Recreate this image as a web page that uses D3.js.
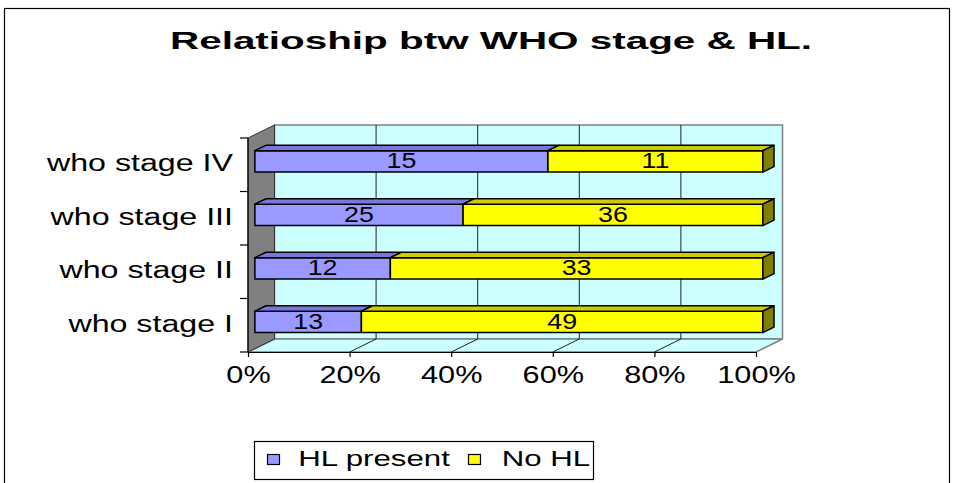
<!DOCTYPE html>
<html>
<head>
<meta charset="utf-8">
<script src="https://cdn.jsdelivr.net/npm/d3@7"></script>
<style>
    body { margin: 0; background: #fff; }
    svg { display: block; }
    text { font-family: "Liberation Sans", Arial, sans-serif; fill: #000; }
</style>
</head>
<body>
<svg id="chart" width="955" height="483"></svg>
<script>
const titleText = 'Relatioship btw WHO stage & HL.';
const categories = ['who stage IV', 'who stage III', 'who stage II', 'who stage I'];
const hlPresent = [15, 25, 12, 13];
const noHL = [11, 36, 33, 49];
const seriesNames = ['HL present', 'No HL'];
const xTicks = [0, 0.2, 0.4, 0.6, 0.8, 1];

const colors = {
    front: ['#9999ff', '#ffff00'],
    top: ['#7777dd', '#cccc00'],
    side: ['#6666aa', '#808000']
};

const svg = d3.select('#chart');

// outer frame
svg.append('rect')
    .attr('x', 4.5).attr('y', 8.5)
    .attr('width', 945).attr('height', 500)
    .attr('fill', '#fff').attr('stroke', '#000').attr('stroke-width', 1.2);

svg.append('g')
    .attr('transform', 'translate(491,48.5) scale(1.72,1)')
    .append('text')
    .attr('text-anchor', 'middle')
    .attr('font-size', 23.5)
    .attr('font-weight', 'bold')
    .text(titleText);

const x = d3.scaleLinear().domain([0, 1]).range([248, 756]);
const y = d3.scaleBand().domain(categories).range([138, 352])
    .paddingInner(0.6).paddingOuter(0.3);

// depth of the 3d box
const DX = 26.5, DY = 13;
const P = (v, py, z) => [x(v) + z * DX, py - z * DY];
const poly = pts => pts.map(p => p.join(',')).join(' ');

const yTop = y.range()[0], yBot = y.range()[1];

// back wall, floor, side wall
svg.append('polygon')
    .attr('points', poly([P(0, yTop, 1), P(1, yTop, 1), P(1, yBot, 1), P(0, yBot, 1)]))
    .attr('fill', '#ccffff').attr('stroke', '#808080').attr('stroke-width', 1.5);
svg.append('polygon')
    .attr('points', poly([P(0, yBot, 0), P(1, yBot, 0), P(1, yBot, 1), P(0, yBot, 1)]))
    .attr('fill', '#ccffff').attr('stroke', '#808080').attr('stroke-width', 1.5);
svg.append('polygon')
    .attr('points', poly([P(0, yTop, 0), P(0, yTop, 1), P(0, yBot, 1), P(0, yBot, 0)]))
    .attr('fill', '#808080').attr('stroke', '#333').attr('stroke-width', 1);

// gridlines on wall and floor
xTicks.filter(t => t > 0 && t < 1).forEach(t => {
    const a = P(t, yTop, 1), b = P(t, yBot, 1), c = P(t, yBot, 0);
    svg.append('polyline')
        .attr('points', poly([a, b, c]))
        .attr('fill', 'none').attr('stroke', '#222').attr('stroke-width', 1);
});

// x axis
const xAxis = svg.append('g')
    .attr('transform', `translate(0,${yBot})`)
    .call(d3.axisBottom(x).tickValues(xTicks).tickFormat(d3.format('.0%')).tickSize(5).tickSizeOuter(0));
xAxis.select('.domain').attr('stroke', '#000').attr('stroke-width', 1.2);
xAxis.selectAll('.tick line').attr('stroke', '#000').attr('stroke-width', 1.2);
xAxis.selectAll('.tick text')
    .attr('font-size', 24)
    .attr('font-family', '"Liberation Sans", Arial, sans-serif')
    .attr('y', 30.7).attr('dy', null)
    .attr('transform', 'scale(1.28,1)')
    .attr('fill', '#000');

// y axis line and ticks at band edges
svg.append('line')
    .attr('x1', x(0)).attr('x2', x(0)).attr('y1', yTop).attr('y2', yBot)
    .attr('stroke', '#000').attr('stroke-width', 1.2);
const edges = categories.map(c => y(c) - y.step() * y.paddingInner() / 2).concat([yBot]);
edges[0] = yTop;
svg.selectAll('.ytick')
    .data(edges)
    .enter().append('line')
    .attr('class', 'ytick')
    .attr('x1', x(0) - 8).attr('x2', x(0))
    .attr('y1', d => d).attr('y2', d => d)
    .attr('stroke', '#000').attr('stroke-width', 1.2);

svg.selectAll('.ylabel')
    .data(categories)
    .enter().append('g')
    .attr('class', 'ylabel')
    .attr('transform', c => `translate(233,${y(c) + y.bandwidth() / 2 + 6.5}) scale(1.4,1)`)
    .append('text')
    .attr('text-anchor', 'end')
    .attr('font-size', 23)
    .text(c => c);

// stacked 100% bars
const rows = categories.map((c, i) => ({ cat: c, 'HL present': hlPresent[i], 'No HL': noHL[i] }));
const stacked = d3.stack().keys(seriesNames).offset(d3.stackOffsetExpand)(rows);

const zf = 0.26, zb = 0.68;
const bars = svg.append('g');
rows.forEach((row, ri) => {
    const y0 = y(row.cat), y1 = y0 + y.bandwidth();
    stacked.forEach((s, si) => {
        const [v0, v1] = s[ri];
        const g = bars.append('g');
        // front
        g.append('polygon')
            .attr('points', poly([P(v0, y0, zf), P(v1, y0, zf), P(v1, y1, zf), P(v0, y1, zf)]))
            .attr('fill', colors.front[si]).attr('stroke', '#000').attr('stroke-width', 1.5)
            .attr('stroke-linejoin', 'round');
        // top
        g.append('polygon')
            .attr('points', poly([P(v0, y0, zf), P(v1, y0, zf), P(v1, y0, zb), P(v0, y0, zb)]))
            .attr('fill', colors.top[si]).attr('stroke', '#000').attr('stroke-width', 1.5)
            .attr('stroke-linejoin', 'round');
        if (si === stacked.length - 1) {
            g.append('polygon')
                .attr('points', poly([P(v1, y0, zf), P(v1, y0, zb), P(v1, y1, zb), P(v1, y1, zf)]))
                .attr('fill', colors.side[si]).attr('stroke', '#000').attr('stroke-width', 1.5)
                .attr('stroke-linejoin', 'round');
        }
        const c = P((v0 + v1) / 2, (y0 + y1) / 2, zf);
        g.append('g')
            .attr('transform', `translate(${c[0]},${c[1] + 7}) scale(1.22,1)`)
            .append('text')
            .attr('text-anchor', 'middle')
            .attr('font-size', 22)
            .text(row[seriesNames[si]]);
    });
});

// legend
const legend = svg.append('g');
legend.append('rect')
    .attr('x', 254.5).attr('y', 441.5).attr('width', 339).attr('height', 38)
    .attr('fill', '#fff').attr('stroke', '#000').attr('stroke-width', 1.2);
const legendItems = [{ sx: 267.5, tx: 298.3 }, { sx: 468.5, tx: 501.7 }];
seriesNames.forEach((name, i) => {
    legend.append('rect')
        .attr('x', legendItems[i].sx).attr('y', 454.5).attr('width', 12).attr('height', 10)
        .attr('fill', colors.front[i]).attr('stroke', '#000').attr('stroke-width', 1.2);
    legend.append('g')
        .attr('transform', `translate(${legendItems[i].tx},466) scale(1.42,1)`)
        .append('text')
        .attr('font-size', 22)
        .text(name);
});
</script>
</body>
</html>
